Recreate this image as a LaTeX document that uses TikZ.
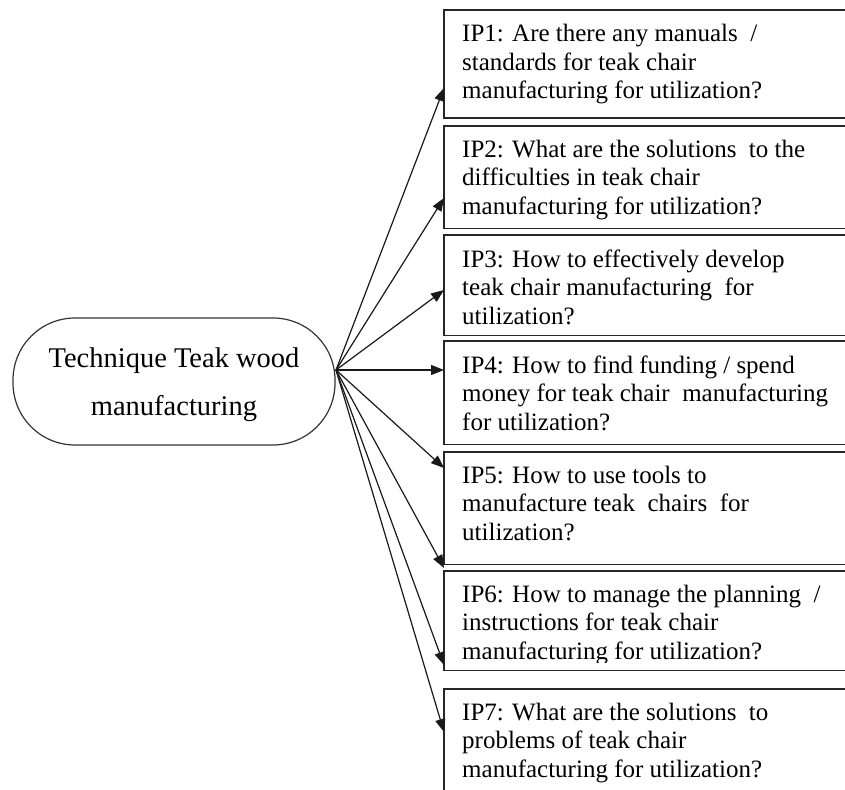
\documentclass[tikz,border=0pt]{standalone}
\usepackage{fontspec}
\setmainfont{Liberation Serif}
\usetikzlibrary{arrows.meta,calc}
\begin{document}
\begin{tikzpicture}[x=1pt,y=-1pt,
  ipbox/.style={rectangle, minimum width=500pt, anchor=north west, inner sep=0pt},
  boxline/.style={draw=black!85, line width=1.8pt},
  iptext/.style={anchor=base west, inner sep=0pt, font=\fontsize{25}{28.5}\selectfont},
  roottext/.style={anchor=base, inner sep=0pt, font=\fontsize{28.5}{48}\selectfont},
  arr/.style={-{Triangle[length=13pt,width=10pt]}, line width=1.2pt, draw=black!90},
]
\useasboundingbox (0,0) rectangle (845,789);
\clip (0,0) rectangle (845,789);
\fill[white] (0,0) rectangle (845,789);

% question boxes; only top, left and bottom sides fall on the page
\node[ipbox, minimum height=108pt] (ip1) at (444,10) {};
\node[ipbox, minimum height=102pt] (ip2) at (444,126) {};
\node[ipbox, minimum height=100pt] (ip3) at (444,235) {};
\node[ipbox, minimum height=103pt] (ip4) at (444,341) {};
\node[ipbox, minimum height=112pt] (ip5) at (444,452) {};
\node[ipbox, minimum height=99pt]  (ip6) at (444,571) {};
\node[ipbox, minimum height=130pt] (ip7) at (444,689) {};
\foreach \b in {ip1,ip2,ip3,ip4,ip5,ip6,ip7}
  \draw[boxline] (\b.north east) -- (\b.north west) -- (\b.south west) -- (\b.south east);

% box texts
\node[iptext] (t1) at ([shift={(18,32)}]ip1.north west)
  {\parbox[t]{370pt}{\raggedright IP1: Are there any manuals \ /\\standards  for teak  chair\\manufacturing for utilization?}};
\node[iptext] (t2) at ([shift={(18,31)}]ip2.north west)
  {\parbox[t]{370pt}{\raggedright IP2: What are the solutions \ to the\\difficulties in teak chair\\manufacturing for utilization?}};
\node[iptext] (t3) at ([shift={(18,32)}]ip3.north west)
  {\parbox[t]{370pt}{\raggedright IP3: How to effectively develop\\teak chair manufacturing \ for\\utilization?}};
\node[iptext] (t4) at ([shift={(18,32)}]ip4.north west)
  {\parbox[t]{370pt}{\raggedright IP4: How to find funding / spend\\money for teak chair \ manufacturing\\for utilization?}};
\node[iptext] (t5) at ([shift={(18,31)}]ip5.north west)
  {\parbox[t]{370pt}{\raggedright IP5: How to use tools to\\manufacture teak \ chairs \ for\\utilization?}};
\begin{scope}
  \clip (444,571) rectangle (845,662);
  \node[iptext] (t6) at ([shift={(18,31)}]ip6.north west)
    {\parbox[t]{370pt}{\raggedright IP6: How to manage the planning \ /\\instructions for teak chair\\manufacturing for utilization?}};
\end{scope}
\node[iptext] (t7) at ([shift={(18,31)}]ip7.north west)
  {\parbox[t]{370pt}{\raggedright IP7: What are the solutions \ to\\problems of teak chair\\manufacturing for utilization?}};

% central topic
\node[draw=black!80, line width=1.2pt, rectangle, rounded corners=62pt,
  minimum width=322pt, minimum height=127pt, inner sep=0pt] (root) at (174,381.5) {};
\node[roottext] (rt) at (174,367)
  {\parbox[t]{320pt}{\centering Technique Teak wood\\manufacturing}};

% connectors
\coordinate (hub) at (336,370);
\draw[arr] (hub) -- (ip1.west |- 0,88);
\draw[arr] (hub) -- (ip2.west |- 0,198);
\draw[arr] (hub) -- (ip3.west |- 0,290);
\draw[arr] (hub) -- (ip4.west |- 0,370);
\draw[arr] (hub) -- (ip5.west |- 0,468);
\draw[arr] (hub) -- (ip5.west |- 0,568);
\draw[arr] (hub) -- (ip6.west |- 0,665);
\draw[arr] (hub) -- (ip7.west |- 0,732);
\end{tikzpicture}
\end{document}
